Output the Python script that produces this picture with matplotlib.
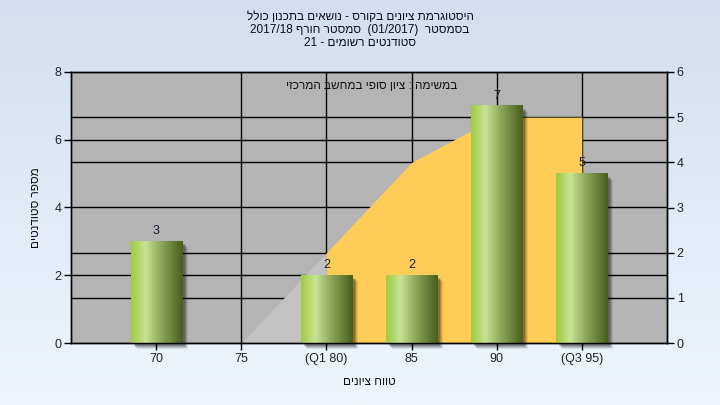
import re
import numpy as np
import matplotlib
matplotlib.use("Agg")
import matplotlib.pyplot as plt
from matplotlib.colors import LinearSegmentedColormap
from matplotlib import transforms

plt.rcParams['font.family'] = ['Liberation Sans', 'DejaVu Sans']

# data
grades = [70, 80, 85, 90, 95]
counts = [3, 2, 2, 7, 5]
tick_pos = [70, 75, 80, 85, 90, 95]
tick_labels = ["70", "75", "(Q1 80)", "85", "90", "(Q3 95)"]

# area on the right axis (outside / inside Q1..Q3)
out_x = [70, 75, 80]
out_y = [0, 0, 2]
in_x = [80, 85, 90, 95]
in_y = [2, 4, 5, 5]

title_lines = ["היסטוגרמת ציונים בקורס - נושאים בתכנון כולל",
               "בסמסטר  (01/2017)  סמסטר חורף 2017/18",
               "סטודנטים רשומים - 21"]
note = "במשימה : ציון סופי במחשב המרכזי"
xlabel = "טווח ציונים"
ylabel = "מספר סטודנטים"


def visual(s):
    # matplotlib has no bidi, flip hebrew to visual order
    r = s[::-1]
    r = re.sub(r'[A-Za-z0-9/.]+', lambda m: m.group(0)[::-1], r)
    return r.translate(str.maketrans('()', ')('))


fig = plt.figure(figsize=(7.2, 4.05), dpi=100)

# background gradient
bg = fig.add_axes([0, 0, 1, 1], zorder=-10)
grad = np.linspace(0, 1, 256).reshape(-1, 1)
bg_cmap = LinearSegmentedColormap.from_list("bg", ["#d3dff0", "#eef5fc"])
bg.imshow(grad, cmap=bg_cmap, aspect='auto', extent=[0, 1, 0, 1])
bg.axis('off')

ax = fig.add_axes([71 / 720, 1 - 343 / 405, 596 / 720, 271 / 405])
ax.set_facecolor('#b4b4b4')
ax2 = ax.twinx()

ax.set_xlim(65, 100)
ax.set_ylim(0, 8)
ax2.set_ylim(0, 6)

# grid lines
for v in [2, 4, 6]:
    ax.plot([65, 100], [v, v], color='black', lw=1, zorder=0.5)
for v in [1, 2, 4, 5]:
    ax.plot([65, 100], [v, v], color='black', lw=1, zorder=0.5, transform=ax2.transData)
for xv in [75, 80, 85, 90, 95]:
    ax.plot([xv, xv], [0, 8], color='black', lw=1, zorder=0.5)

# areas (right scale)
ax.fill_between(out_x, out_y, 0, color='#c2c2c2', lw=0, zorder=1, transform=ax2.transData)
ax.fill_between(in_x, in_y, 0, color='#ffcc58', lw=0, zorder=1, transform=ax2.transData)

# cylinder style bars
bar_cmap = LinearSegmentedColormap.from_list(
    "cyl", [(0, '#a0cb42'), (0.28, '#c7e394'), (0.55, '#93ab5e'), (1, '#485f1e')])
row = np.linspace(0, 1, 100).reshape(1, -1)
w = 3.0
for g, c in zip(grades, counts):
    for off, a in [(6, 0.08), (5, 0.12), (4, 0.16), (3, 0.2)]:
        sh = transforms.offset_copy(ax.transData, fig, x=off, y=-off, units='dots')
        ax.add_patch(plt.Rectangle((g - w / 2, 0), w, c, color='black',
                                   alpha=a, lw=0, zorder=2, transform=sh, clip_on=False))
    ax.imshow(row, cmap=bar_cmap, aspect='auto', zorder=3,
              extent=[g - w / 2, g + w / 2, 0, c])
    ax.annotate(str(c), (g, c), xytext=(0, 3), textcoords='offset points',
                ha='center', va='bottom', fontsize=9, color='#1c1c30', zorder=4)

ax.set_xlim(65, 100)
ax.set_ylim(0, 8)

ax.set_xticks(tick_pos)
ax.set_xticklabels(tick_labels)
ax.set_yticks([0, 2, 4, 6, 8])
ax2.set_yticks(range(7))
for a in (ax, ax2):
    a.tick_params(direction='out', length=5, width=1, color='black',
                  labelsize=9, labelcolor='#222222', pad=2)
    for s in a.spines.values():
        s.set_color('black')
        s.set_linewidth(1)

ax.set_xlabel(visual(xlabel), fontsize=8.5, color='#111111', labelpad=8)
ax.set_ylabel(visual(ylabel), fontsize=8.5, color='#111111', labelpad=9)

ax.text(0.505, 0.95, visual(note), transform=ax.transAxes, ha='center', va='center',
        fontsize=8.5, color='#111111', zorder=5)

for i, line in enumerate(title_lines):
    fig.text(0.5, 1 - (17 + 13 * i) / 405, visual(line), ha='center', va='center',
             fontsize=8.5, color='#0c0c1c')

fig.savefig("out.png", dpi=100)
